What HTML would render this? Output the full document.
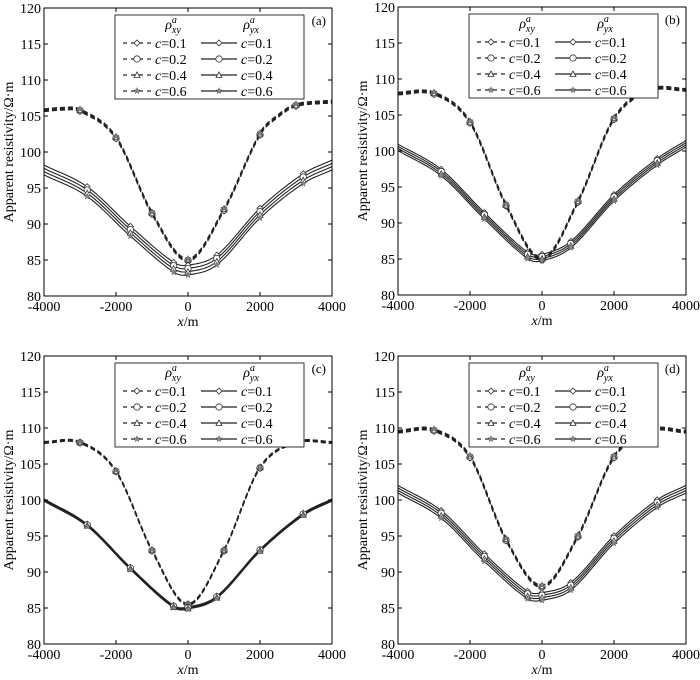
<!DOCTYPE html>
<html><head><meta charset="utf-8"><style>
body{margin:0;background:#fff}
svg{display:block;font-family:"Liberation Serif",serif}
</style></head><body>
<svg id="s" width="700" height="680" xmlns="http://www.w3.org/2000/svg"></svg>
<script>
const S=document.getElementById('s');let h='';
const panels=[
{x0:44,y0:8,lab:'(a)',
 xy:[[-4000,105.8],[-3500,106],[-3000,105.8],[-2000,102],[-1000,91.5],[0,85],[1000,92],[2000,102.5],[2500,105],[3000,106.5],[4000,107]],dxy:0.12,
 yx:[[-4000,97.5],[-2800,94.5],[-1600,89],[-400,84],[0,83.6],[800,85],[2000,91.5],[3200,96.3],[4000,98.2]],dyx:0.45},
{x0:398,y0:7,lab:'(b)',
 xy:[[-4000,108],[-3000,108],[-2000,104],[-1000,92.5],[0,85],[1000,93],[2000,104.5],[3000,108.5],[4000,108.5]],dxy:0.12,
 yx:[[-4000,100.5],[-2800,97],[-1600,91],[-400,85.5],[0,85.2],[800,87],[2000,93.5],[3200,98.5],[4000,101]],dyx:0.3},
{x0:44,y0:356,lab:'(c)',
 xy:[[-4000,108],[-3000,108],[-2000,104],[-1000,93],[0,85.5],[1000,93],[2000,104.5],[3000,108],[4000,108]],dxy:0.08,
 yx:[[-4000,100],[-2800,96.5],[-1600,90.5],[-400,85.2],[0,85],[800,86.5],[2000,93],[3200,98],[4000,100]],dyx:0.1},
{x0:398,y0:356,lab:'(d)',
 xy:[[-4000,109.5],[-3000,109.7],[-2000,106],[-1000,94.5],[0,88],[1000,95],[2000,106],[3000,109.7],[4000,109.5]],dxy:0.12,
 yx:[[-4000,101.5],[-2800,98],[-1600,92],[-400,86.8],[0,86.6],[800,88],[2000,94.5],[3200,99.5],[4000,101.5]],dyx:0.35}];
const W=288,H=288;
function interp(pts,x){for(let i=0;i<pts.length-1;i++){if(x<=pts[i+1][0]){const p0=pts[Math.max(i-1,0)],p1=pts[i],p2=pts[i+1],p3=pts[Math.min(i+2,pts.length-1)];const t=(x-p1[0])/(p2[0]-p1[0]);const m1=(p2[1]-p0[1])/(p2[0]-p0[0])*(p2[0]-p1[0]),m2=(p3[1]-p1[1])/(p3[0]-p1[0])*(p2[0]-p1[0]);const t2=t*t,t3=t2*t;return (2*t3-3*t2+1)*p1[1]+(t3-2*t2+t)*m1+(-2*t3+3*t2)*p2[1]+(t3-t2)*m2;}}return pts[pts.length-1][1];}
function mk(type,X,Y){let s='stroke="#333" fill="#fff" stroke-width="0.8"';
 if(type==0)return `<path d="M${X-3} ${Y}L${X} ${Y-3}L${X+3} ${Y}L${X} ${Y+3}Z" ${s}/>`;
 if(type==1)return `<circle cx="${X}" cy="${Y}" r="3.2" ${s}/>`;
 if(type==2)return `<path d="M${X-3} ${Y+2.5}L${X} ${Y-3}L${X+3} ${Y+2.5}Z" ${s}/>`;
 let d='';for(let i=0;i<10;i++){const r=i%2?1.3:3.3,a=-Math.PI/2+i*Math.PI/5;d+=(i?'L':'M')+(X+r*Math.cos(a)).toFixed(1)+' '+(Y+r*Math.sin(a)).toFixed(1);}
 return `<path d="${d}Z" fill="#888" stroke="#555" stroke-width="0.5"/>`;}
panels.forEach(p=>{
 const X=v=>p.x0+(v+4000)/8000*W, Y=v=>p.y0+H-(v-80)/40*H;
 h+=`<g>`;
 [['xy',p.dxy,'5,3',1.3],['yx',p.dyx,'',1.1]].forEach(([k,d,dash,sw])=>{
  for(let c=0;c<4;c++){const off=(k=='xy'?(c-1.5)*d:(1.5-c)*d);let path='';
   for(let x=-4000;x<=4000;x+=50){const v=interp(p[k],x)+off;path+=(x==-4000?'M':'L')+X(x).toFixed(1)+' '+Y(v).toFixed(1);}
   h+=`<path d="${path}" fill="none" stroke="#222" stroke-width="${sw}" ${dash?'stroke-dasharray="'+dash+'"':''}/>`;}
  });
 [['xy',p.dxy,[-3000,-2000,-1000,0,1000,2000,3000]],['yx',p.dyx,[-2800,-1600,-400,0,800,2000,3200]]].forEach(([k,d,xs])=>{
  for(let c=0;c<4;c++){const off=(k=='xy'?(c-1.5)*d:(1.5-c)*d);xs.forEach(x=>{h+=mk(c,X(x),Y(interp(p[k],x)+off))});}});
 h+=`<rect x="${p.x0}" y="${p.y0}" width="${W}" height="${H}" fill="none" stroke="#000" stroke-width="1"/>`;
 for(let v=80;v<=120;v+=5){const y=Y(v);h+=`<line x1="${p.x0}" x2="${p.x0+4}" y1="${y}" y2="${y}" stroke="#000"/><line x1="${p.x0+W-4}" x2="${p.x0+W}" y1="${y}" y2="${y}" stroke="#000"/><text x="${p.x0-3}" y="${y+5}" font-size="14" text-anchor="end">${v}</text>`;}
 for(let v=-4000;v<=4000;v+=2000){const x=X(v);h+=`<line x1="${x}" x2="${x}" y1="${p.y0+H}" y2="${p.y0+H-4}" stroke="#000"/><line x1="${x}" x2="${x}" y1="${p.y0}" y2="${p.y0+4}" stroke="#000"/><text x="${x}" y="${p.y0+H+15}" font-size="14" text-anchor="middle">${v}</text>`;}
 h+=`<text x="${p.x0+W/2}" y="${p.y0+H+30}" font-size="14" text-anchor="middle"><tspan font-style="italic">x</tspan>/m</text>`;
 h+=`<text transform="translate(${p.x0-31},${p.y0+H/2}) rotate(-90)" font-size="14" text-anchor="middle">Apparent resistivity/Ω·m</text>`;
 h+=`<text x="${p.x0+W-6}" y="${p.y0+17}" font-size="13" text-anchor="end">${p.lab}</text>`;
 const lx=p.x0+71,ly=p.y0+7;
 h+=`<rect x="${lx}" y="${ly}" width="189" height="84" fill="#fff" stroke="#000" stroke-width="0.8"/>`;
 h+=`<text x="${lx+58}" y="${ly+14}" font-size="14" font-style="italic" text-anchor="middle">ρ<tspan font-size="10" dy="-6">a</tspan><tspan font-size="10" dx="-5" dy="10">xy</tspan></text>`;
 h+=`<text x="${lx+136}" y="${ly+14}" font-size="14" font-style="italic" text-anchor="middle">ρ<tspan font-size="10" dy="-6">a</tspan><tspan font-size="10" dx="-5" dy="10">yx</tspan></text>`;
 ['0.1','0.2','0.4','0.6'].forEach((c,i)=>{const y=ly+28+i*16;
  h+=`<line x1="${lx+8}" x2="${lx+36}" y1="${y}" y2="${y}" stroke="#222" stroke-width="1.2" stroke-dasharray="4,4"/>`+mk(i,lx+22,y);
  h+=`<text x="${lx+40}" y="${y+5}" font-size="14"><tspan font-style="italic">c</tspan>=${c}</text>`;
  h+=`<line x1="${lx+86}" x2="${lx+122}" y1="${y}" y2="${y}" stroke="#222" stroke-width="1.2"/>`+mk(i,lx+104,y);
  h+=`<text x="${lx+126}" y="${y+5}" font-size="14"><tspan font-style="italic">c</tspan>=${c}</text>`;});
 h+='</g>';});
S.innerHTML=h;
</script>
</body></html>
